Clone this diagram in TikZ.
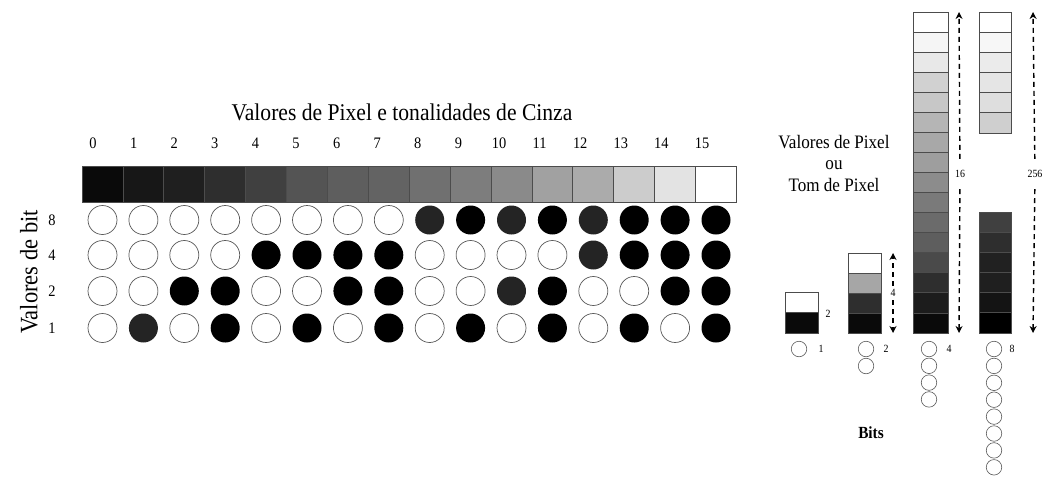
\documentclass[tikz,border=0pt]{standalone}
\usepackage{fontspec}
\setmainfont{Liberation Serif}[FakeStretch=0.9]
\usetikzlibrary{arrows.meta}
\begin{document}
\begin{tikzpicture}[x=1pt,y=-1pt,
  cellbox/.style={rectangle,draw=black!70,line width=0.8pt,inner sep=0pt},
  bitoff/.style={circle,draw=black!65,line width=0.7pt,fill=white,minimum size=29pt,inner sep=0pt},
  biton/.style={circle,fill=black,minimum size=29pt,inner sep=0pt},
  bitdark/.style={circle,fill=black!86,minimum size=29pt,inner sep=0pt},
  smallbit/.style={circle,draw=black!65,line width=0.6pt,fill=white,minimum size=15.5pt,inner sep=0pt},
  numlbl/.style={font=\fontsize{16}{18}\selectfont,inner sep=0pt},
  tinylbl/.style={font=\fontsize{11}{13}\selectfont,inner sep=1pt},
  arrlbl/.style={font=\fontsize{11}{13}\selectfont,inner sep=0pt,minimum height=30pt},
  dimarrow/.style={dash pattern=on 5pt off 4pt,line width=1.4pt,-{Stealth[length=7pt,width=7pt]}},
]
\useasboundingbox[fill=white] (0,0) rectangle (1043,479);

% title
\node[font=\fontsize{24}{27}\selectfont] (title) at (402,112) {Valores de Pixel e tonalidades de Cinza};

% grey bar
\foreach \i/\g in {0/96,1/91,2/88,3/82,4/75,5/67,6/63,7/61,8/56,9/51,10/46,11/37,12/33,13/20,14/11,15/0}{
  \node[cellbox,minimum width=40.9pt,minimum height=36pt,fill=black!\g] (bar\i) at ({102.5+40.9*\i},184) {};
  \node[numlbl] (num\i) at ({93+40.6*\i},143) {\i};
}

% bit rows
\foreach \b/\y in {8/220,4/255,2/291,1/328}{
  \node[numlbl] (row\b) at (52,\y) {\b};
  \foreach \i in {0,...,15}{
    \pgfmathtruncatemacro\bitv{mod(floor(\i/\b),2)}
    \pgfmathtruncatemacro\dk{((\i==1)&&(\b==1))||((\i==8)&&(\b==8))||((\i==10)&&(\b==8))||((\i==12)&&(\b==8))||((\i==12)&&(\b==4))||((\i==10)&&(\b==2))}
    \ifnum\bitv=1
      \ifnum\dk=1 \def\sty{bitdark}\else\def\sty{biton}\fi
    \else\def\sty{bitoff}\fi
    \node[\sty] (c\i-\b) at ({102.5+40.9*\i},\y) {};
  }
}
\node[rotate=90,font=\fontsize{25}{28}\selectfont] (bitlbl) at (29,272) {Valores de bit};

% right side text
\node[align=center,font=\fontsize{19}{21.5}\selectfont] (pixlbl) at (834,163) {Valores de Pixel\\ou\\Tom de Pixel};
\node[font=\fontsize{17}{19}\bfseries\selectfont] (bits) at (871,433) {Bits};

% column 1 bit
\foreach \k/\g in {0/0,1/96}{
  \node[cellbox,minimum width=33pt,minimum height=20.5pt,fill=black!\g] (a\k) at (801.5,{292+20.5*(\k+0.5)}) {};
}
\node[tinylbl] (a2) at (828,314) {2};
\node[smallbit] (ab0) at (799,349) {};
\node[tinylbl] (a1) at (821,349) {1};

% column 2 bits
\foreach \k/\g in {0/0,1/35,2/82,3/96}{
  \node[cellbox,minimum width=33pt,minimum height=20pt,fill=black!\g] (b\k) at (864.5,{253+20*(\k+0.5)}) {};
}
\coordinate (bt) at (893,253);
\coordinate (bb) at (893,333);
\node[arrlbl,minimum height=14pt] (b4) at (893,293) {4};
\draw[dimarrow] (b4) -- (bt);
\draw[dimarrow] (b4) -- (bb);
\foreach \k in {0,1}{\node[smallbit] (bb\k) at (866,{349+17*\k}) {};}
\node[tinylbl] (b2) at (886,349) {2};

% column 4 bits
\foreach \k/\g in {0/0,1/4,2/9,3/18,4/22,5/29,6/34,7/38,8/45,9/52,10/58,11/63,12/71,13/82,14/89,15/96}{
  \node[cellbox,minimum width=35pt,minimum height=20.06pt,fill=black!\g] (cc\k) at (930.5,{12+20.06*(\k+0.5)}) {};
}
\coordinate (ct) at (959,12);
\coordinate (cb) at (959,333);
\node[arrlbl] (c16) at (960,174) {16};
\draw[dimarrow] (c16) -- (ct);
\draw[dimarrow] (c16) -- (cb);
\foreach \k in {0,...,3}{\node[smallbit] (cbit\k) at (929,{349+16.8*\k}) {};}
\node[tinylbl] (c4) at (949,349) {4};

% column 8 bits
\foreach \k/\g in {0/0,1/3,2/8,3/10,4/13,5/19}{
  \node[cellbox,minimum width=32pt,minimum height=20.17pt,fill=black!\g] (dt\k) at (995,{12+20.17*(\k+0.5)}) {};
}
\foreach \k/\g in {0/75,1/82,2/87,3/88,4/92,5/100}{
  \node[cellbox,minimum width=32pt,minimum height=20.17pt,fill=black!\g] (db\k) at (995,{212+20.17*(\k+0.5)}) {};
}
\coordinate (dt) at (1033,12);
\coordinate (db) at (1033,333);
\node[arrlbl] (d256) at (1035,174) {256};
\draw[dimarrow] (d256) -- (dt);
\draw[dimarrow] (d256) -- (db);
\foreach \k in {0,...,7}{\node[smallbit] (dbit\k) at (994,{349+16.9*\k}) {};}
\node[tinylbl] (d8) at (1012,349) {8};
\end{tikzpicture}
\end{document}
